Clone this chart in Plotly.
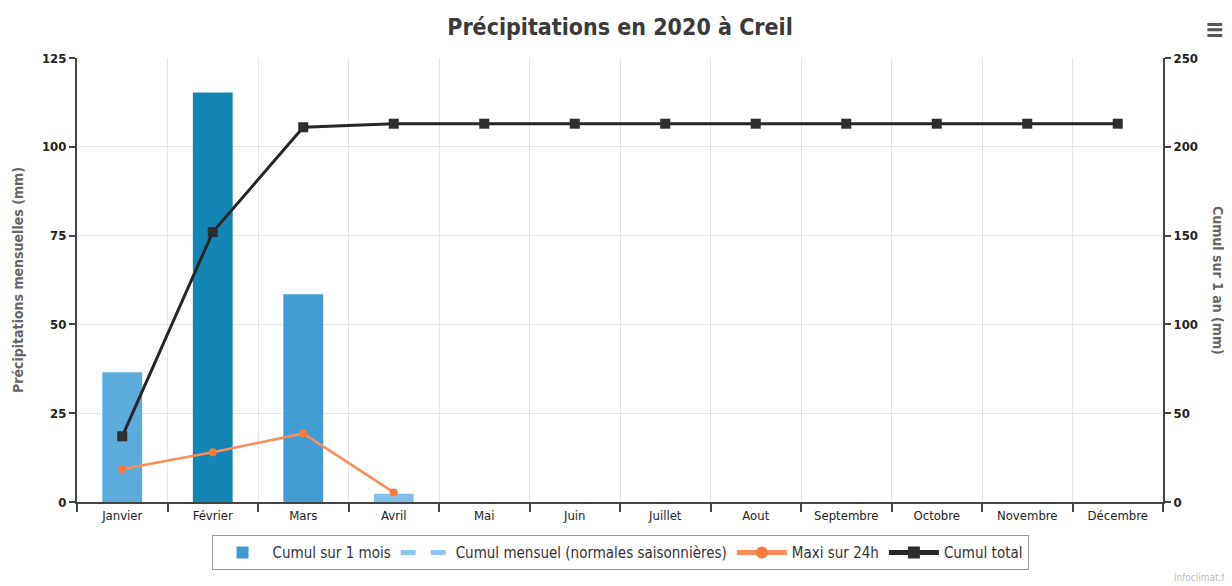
import plotly.graph_objects as go

months = ["Janvier", "Février", "Mars", "Avril", "Mai", "Juin", "Juillet",
          "Aout", "Septembre", "Octobre", "Novembre", "Décembre"]
cumul_mois = [36.5, 115.3, 58.5, 2.3, None, None, None, None, None, None, None, None]
normales = [None] * 12
maxi_24h = [9.3, 14.0, 19.3, 2.7, None, None, None, None, None, None, None, None]
cumul_total = [37, 152, 211, 213, 213, 213, 213, 213, 213, 213, 213, 213]

left_ticks = [0, 25, 50, 75, 100, 125]
right_ticks = [0, 50, 100, 150, 200, 250]

FONT = "DejaVu Sans Condensed, DejaVu Sans, sans-serif"

fig = go.Figure()

fig.add_trace(go.Bar(
    x=months, y=cumul_mois, name="Cumul sur 1 mois",
    width=0.44,
    marker=dict(color=[v if v is not None else 0 for v in cumul_mois],
                colorscale=[[0, "#86c2ea"], [0.5, "#3d9bd3"], [1, "#0b82b0"]],
                cmin=0, cmax=125, line=dict(width=0)),
))
fig.add_trace(go.Scatter(
    x=months, y=normales, name="Cumul mensuel (normales saisonnières)",
    mode="lines", line=dict(color="#8cc6ea", width=2, dash="dash"),
))
fig.add_trace(go.Scatter(
    x=months, y=maxi_24h, name="Maxi sur 24h",
    mode="lines+markers", line=dict(color="#fb8c5c", width=2.5),
    marker=dict(color="#fb7a3c", size=8, symbol="circle"),
))
fig.add_trace(go.Scatter(
    x=months, y=cumul_total, name="Cumul total", yaxis="y2",
    mode="lines+markers", line=dict(color="#262626", width=3),
    marker=dict(color="#2e2e2e", size=10, symbol="square"),
))

axis_font = dict(family=FONT, size=13, color="#222222")
bold_tick = dict(family=FONT, size=13, color="#222", weight="bold")

# page body adds an 8px offset; figure is sized to fill the rest of the window
fig.update_layout(
    width=1224, height=578,
    margin=dict(l=69, r=69, t=50, b=84, autoexpand=False),
    paper_bgcolor="white", plot_bgcolor="white",
    font=dict(family=FONT, size=13, color="#333333"),
    title=dict(text="<b>Précipitations en 2020 à Creil</b>", x=0.5, xanchor="center",
               y=0.967, yanchor="middle",
               font=dict(family=FONT, size=23, color="#3a3a3a")),
    bargap=0.56,
    xaxis=dict(
        type="category", categoryorder="array", categoryarray=months,
        range=[-0.5, 11.5], tickson="boundaries", ticks="outside", ticklen=8,
        tickcolor="#444", tickwidth=2, automargin=False,
        showline=True, linecolor="#444", linewidth=2,
        showgrid=True, gridcolor="#e6e6e6", gridwidth=1,
        tickfont=axis_font, zeroline=False,
    ),
    yaxis=dict(
        range=[0, 125], tickvals=left_ticks, ticks="outside", ticklen=6,
        tickcolor="#444", tickwidth=2, automargin=False,
        showline=True, linecolor="#444", linewidth=2,
        showgrid=True, gridcolor="#e6e6e6", gridwidth=1, zeroline=False,
        tickfont=bold_tick,
    ),
    yaxis2=dict(
        range=[0, 250], tickvals=right_ticks, overlaying="y", side="right",
        ticks="outside", ticklen=6, tickcolor="#444", tickwidth=2, automargin=False,
        showline=True, linecolor="#444", linewidth=2,
        showgrid=False, zeroline=False,
        tickfont=bold_tick,
    ),
    legend=dict(
        orientation="h", x=0.5, xanchor="center", y=-0.075, yanchor="top",
        bordercolor="#999999", borderwidth=1, bgcolor="white",
        font=dict(family=FONT, size=15, color="#333333"),
        itemsizing="constant", itemwidth=50,
    ),
    showlegend=True,
    annotations=[
        dict(text="<b>Précipitations mensuelles (mm)</b>", xref="paper", yref="paper",
             x=0, y=0.5, xanchor="center", yanchor="middle", xshift=-59,
             textangle=-90, showarrow=False,
             font=dict(family=FONT, size=14, color="#666666")),
        dict(text="<b>Cumul sur 1 an (mm)</b>", xref="paper", yref="paper",
             x=1, y=0.5, xanchor="center", yanchor="middle", xshift=55,
             textangle=90, showarrow=False,
             font=dict(family=FONT, size=14, color="#666666")),
        dict(text="<b>≡</b>", xref="paper", yref="paper", x=1.0, y=1.0,
             xanchor="center", yanchor="middle", xshift=52, yshift=29,
             showarrow=False, font=dict(size=26, color="#555555")),
        dict(text="infoclimat.fr", xref="paper", yref="paper", x=1.0, y=0,
             xanchor="right", yanchor="top", xshift=68, yshift=-68, showarrow=False,
             font=dict(size=10, color="#bbbbbb")),
    ],
)

fig.write_html("out.html")
